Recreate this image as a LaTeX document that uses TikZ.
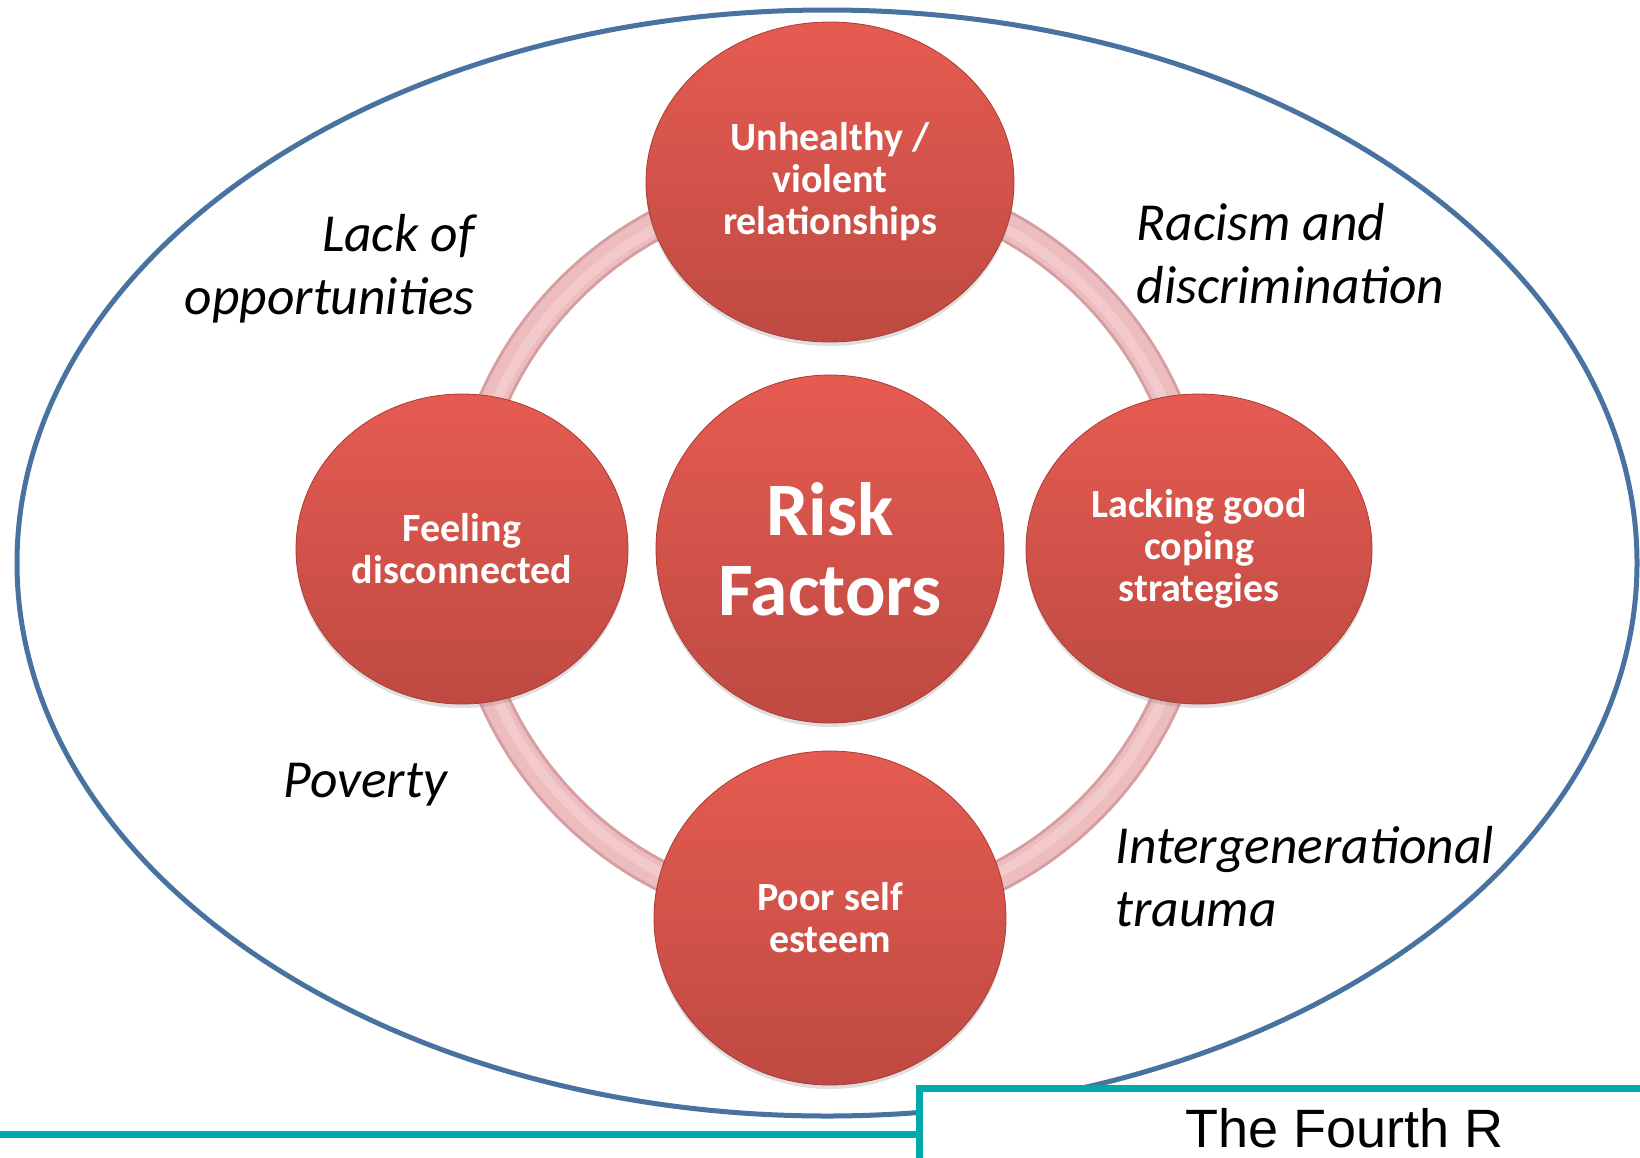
\documentclass[tikz,border=0pt]{standalone}
\usepackage{fontspec}
\setmainfont{Carlito}
\newfontfamily\brandfont{Liberation Sans}
\usetikzlibrary{shapes.geometric,shadows}

\definecolor{ovalblue}{RGB}{72,114,160}
\definecolor{brandteal}{RGB}{0,170,170}
\definecolor{redtop}{RGB}{229,91,81}
\definecolor{redbot}{RGB}{190,74,66}
\definecolor{redrim}{RGB}{170,60,52}
\definecolor{ringout}{RGB}{214,158,160}
\definecolor{ringmid}{RGB}{236,188,190}
\definecolor{ringin}{RGB}{243,202,204}

\begin{document}
\begin{tikzpicture}[x=1pt,y=-1pt,
  bubble/.style={ellipse,draw=redrim,line width=0.8pt,top color=redtop,bottom color=redbot,
    text=white,align=center,inner sep=0pt,font=\bfseries\fontsize{40}{42}\selectfont,
    drop shadow={shadow xshift=0pt,shadow yshift=-4pt,opacity=0.25}},
  context/.style={font=\itshape\fontsize{53.5}{63}\selectfont}]
\pgfmathsetmacro{\cx}{830}
\pgfmathsetmacro{\cy}{549}
\pgfmathsetmacro{\rr}{368}
\useasboundingbox (0,0) rectangle (1640,1157);
\clip (0,0) rectangle (1640,1157);
% outer oval
\draw[ovalblue,line width=5pt] (827,563) ellipse[x radius=810,y radius=553];
% ring behind the bubbles
\draw[ringout,line width=31pt] (\cx,\cy) circle[radius=\rr];
\draw[ringmid,line width=25pt] (\cx,\cy) circle[radius=\rr];
\draw[ringin,line width=10pt] (\cx,\cy) circle[radius=\rr-3];
% the five bubbles
\node[bubble,minimum width=368pt,minimum height=320pt] (unhealthy) at (\cx,182) {Unhealthy /\\violent\\relationships};
\node[bubble,minimum width=332pt,minimum height=310pt] (disconnected) at (462,\cy) {Feeling\\disconnected};
\node[bubble,minimum width=346pt,minimum height=310pt] (coping) at (1199,\cy) {Lacking good\\coping\\strategies};
\node[bubble,minimum width=352pt,minimum height=334pt] (esteem) at (\cx,918) {Poor self\\esteem};
\node[bubble,minimum width=348pt,minimum height=348pt,font=\bfseries\fontsize{75.5}{80}\selectfont] (risk) at (\cx,\cy) {Risk\\Factors};
% context around the ring (anchored on the last line)
\node[context,align=right,anchor=base east] (opportunities) at (478,314) {Lack of\\opportunities};
\node[context,align=left,anchor=base west] (racism) at (1133,303) {Racism and\\discrimination};
\node[context,anchor=base west] (poverty) at (280,797) {Poverty};
\node[context,align=left,anchor=base west] (trauma) at (1112,926) {Intergenerational\\trauma};
% footer
\node[draw=brandteal,line width=7pt,fill=white,anchor=north west,minimum width=850pt,minimum height=80pt,
  font=\brandfont\fontsize{54}{56}\selectfont] (brand) at (916,1085) {The Fourth R};
\coordinate (rule) at (0,1134);
\draw[brandteal,line width=7pt] (rule) -- (rule -| brand.west);
\end{tikzpicture}
\end{document}
